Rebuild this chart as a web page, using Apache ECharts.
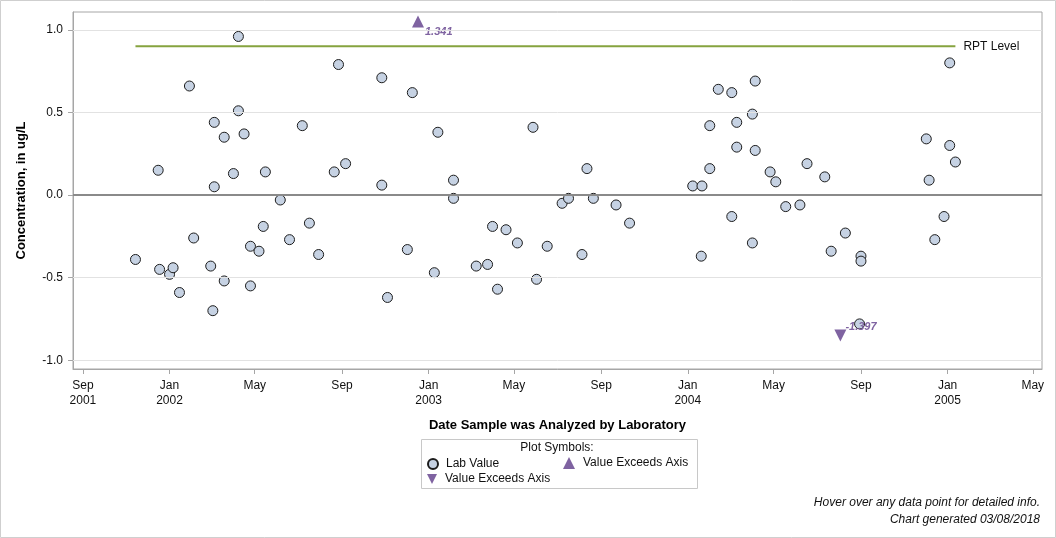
<!DOCTYPE html>
<html>
<head>
<meta charset="utf-8">
<script src="https://cdn.jsdelivr.net/npm/echarts@6/dist/echarts.min.js"></script>
<style>
    html, body {margin: 0; padding: 0; background: #fff;}
    #chart {width: 1056px; height: 538px;}
</style>
</head>
<body>
<div id="chart"></div>
<script>
// lab values (date analyzed, concentration ug/L)
let labDates = [
    '2001-11-14','2001-12-16','2001-12-18','2002-01-01','2002-01-06','2002-01-15','2002-01-29','2002-02-04','2002-02-28',
    '2002-03-05','2002-03-05','2002-03-03','2002-03-19','2002-03-19','2002-04-01','2002-04-08','2002-04-08','2002-04-16',
    '2002-04-25','2002-04-25','2002-05-07','2002-05-13','2002-05-16','2002-06-06','2002-06-19','2002-07-07','2002-07-17',
    '2002-07-30','2002-08-21','2002-08-27','2002-09-06','2002-10-27','2002-10-27','2002-11-04','2002-12-02','2002-12-09',
    '2003-01-09','2003-01-14','2003-02-05','2003-02-05','2003-03-09','2003-03-25','2003-04-01','2003-04-08','2003-04-20',
    '2003-05-06','2003-05-28','2003-06-02','2003-06-17','2003-07-08','2003-07-17','2003-08-05','2003-08-12','2003-08-21',
    '2003-09-22','2003-10-11',
    '2004-01-08','2004-01-21','2004-01-20','2004-02-01','2004-02-01','2004-02-13','2004-03-03','2004-03-03','2004-03-10',
    '2004-03-10','2004-04-01','2004-04-01','2004-04-05','2004-04-05','2004-04-26','2004-05-04','2004-05-18','2004-06-07',
    '2004-06-17','2004-07-12','2004-07-21','2004-08-10','2004-09-01','2004-09-01','2004-08-30',
    '2004-12-02','2004-12-06','2004-12-14','2004-12-27','2005-01-04','2005-01-04','2005-01-12'
];
let labValues = [
    -0.39, 0.15, -0.45, -0.48, -0.44, -0.59, 0.66, -0.26, -0.43,
    0.44, 0.05, -0.70, 0.35, -0.52, 0.13, 0.96, 0.51, 0.37,
    -0.31, -0.55, -0.34, -0.19, 0.14, -0.03, -0.27, 0.42, -0.17,
    -0.36, 0.14, 0.79, 0.19, 0.71, 0.06, -0.62, -0.33, 0.62,
    -0.47, 0.38, 0.09, -0.02, -0.43, -0.42, -0.19, -0.57, -0.21,
    -0.29, 0.41, -0.51, -0.31, -0.05, -0.02, -0.36, 0.16, -0.02,
    -0.06, -0.17,
    0.055, 0.055, -0.37, 0.16, 0.42, 0.64, 0.62, -0.13, 0.44,
    0.29, 0.49, -0.29, 0.69, 0.27, 0.14, 0.08, -0.07, -0.06,
    0.19, 0.11, -0.34, -0.23, -0.37, -0.40, -0.78,
    0.34, 0.09, -0.27, -0.13, 0.80, 0.30, 0.20
];

// values beyond the axis: drawn at the edge, real value as label
let upDates = ['2002-12-17'];
let upShown = [1.05];
let upActual = [1.341];
let downDates = ['2004-08-03'];
let downShown = [-0.85];
let downActual = [-1.397];

let rptLevel = 0.9;

// axes
let xMin = '2001-08-18', xMax = '2005-05-14';
let yMin = -1.053, yMax = 1.108;
let yTicks = [-1.0, -0.5, 0.0, 0.5, 1.0];
let xTickDates = ['2001-09-01','2002-01-01','2002-05-01','2002-09-01','2003-01-01','2003-05-01',
                  '2003-09-01','2004-01-01','2004-05-01','2004-09-01','2005-01-01','2005-05-01'];
let xTickLabels = ['Sep\n2001','Jan\n2002','May','Sep','Jan\n2003','May',
                   'Sep','Jan\n2004','May','Sep','Jan\n2005','May'];

function ts(s){
    let p = s.split('-');
    return new Date(+p[0], +p[1] - 1, +p[2]).getTime();
}

let xTickTimes = xTickDates.map(ts);
let labData = labDates.map((d, i) => [ts(d), labValues[i]]);
let upData = upDates.map((d, i) => [ts(d), upShown[i], upActual[i]]);
let downData = downDates.map((d, i) => [ts(d), downShown[i], downActual[i]]);
let rptData = [[ts(labDates[0]), rptLevel], [ts(labDates[labDates.length - 1]), rptLevel]];

const FONT = '"Liberation Sans", Arial, sans-serif';
const PURPLE = '#7f63a1';

//网格线
let gridLines = yTicks.map(v => {
    if (v === 0) return {yAxis: v, lineStyle: {color: '#8a8a8a', width: 2}};
    return {yAxis: v};
});

let legendText = {fontSize: 12, color: '#111', fontFamily: FONT, padding: [0, 0, 0, 3]};

let option = {
    animation: false,
    textStyle: {fontFamily: FONT},
    grid: {
        left: 73, right: 14, top: 12, bottom: 169,
        show: true,
        borderColor: '#a6a6a6',
        borderWidth: 1
    },
    legend: [
        {
            data: ['Lab Value'],
            left: 422, top: 453,
            itemWidth: 10, itemHeight: 10,
            selectedMode: false,
            textStyle: legendText
        },
        {
            data: ['up'],
            left: 558, top: 452,
            itemWidth: 12, itemHeight: 12,
            selectedMode: false,
            formatter: () => 'Value Exceeds Axis',
            textStyle: legendText
        },
        {
            data: [{name: 'down', icon: 'path://M0,0L2,0L1,2Z'}],
            left: 422, top: 468,
            itemWidth: 10, itemHeight: 10,
            selectedMode: false,
            formatter: () => 'Value Exceeds Axis',
            textStyle: legendText
        }
    ],
    xAxis: {
        // timestamps on a value axis so the month ticks can be placed exactly
        type: 'value',
        min: ts(xMin),
        max: ts(xMax),
        name: 'Date Sample was Analyzed by Laboratory',
        nameLocation: 'middle',
        nameGap: 50,
        nameTextStyle: {fontSize: 13, fontWeight: 'bold', color: '#000', fontFamily: FONT},
        axisLine: {show: true, onZero: false, lineStyle: {color: '#a6a6a6'}},
        axisTick: {show: true, length: 5, customValues: xTickTimes, lineStyle: {color: '#a6a6a6'}},
        axisLabel: {
            customValues: xTickTimes,
            margin: 9,
            fontSize: 12,
            lineHeight: 15,
            color: '#111',
            fontFamily: FONT,
            formatter: (val) => {
                let i = xTickTimes.indexOf(+val);
                return i >= 0 ? xTickLabels[i] : '';
            }
        },
        splitLine: {show: false}
    },
    yAxis: {
        type: 'value',
        min: yMin,
        max: yMax,
        name: 'Concentration, in ug/L',
        nameLocation: 'middle',
        nameGap: 45,
        nameTextStyle: {fontSize: 13, fontWeight: 'bold', color: '#000', fontFamily: FONT},
        axisLine: {show: true, onZero: false, lineStyle: {color: '#a6a6a6'}},
        axisTick: {show: true, length: 5, customValues: yTicks, lineStyle: {color: '#a6a6a6'}},
        axisLabel: {
            customValues: yTicks,
            margin: 10,
            fontSize: 12,
            color: '#111',
            fontFamily: FONT,
            formatter: (v) => (+v).toFixed(1)
        },
        splitLine: {show: false}
    },
    series: [
        {
            name: 'grid',
            type: 'line',
            data: [],
            silent: true,
            z: 1,
            markLine: {
                silent: true,
                symbol: 'none',
                label: {show: false},
                lineStyle: {color: '#e2e2e2', width: 1, type: 'solid'},
                data: gridLines
            }
        },
        {
            name: 'RPT Level',
            type: 'line',
            data: rptData,
            symbol: 'none',
            z: 2,
            lineStyle: {color: '#86a33f', width: 2},
            endLabel: {
                show: true,
                formatter: 'RPT Level',
                distance: 8,
                fontSize: 12,
                color: '#111',
                fontFamily: FONT
            }
        },
        {
            name: 'Lab Value',
            type: 'scatter',
            data: labData,
            symbol: 'circle',
            symbolSize: 10,
            z: 3,
            itemStyle: {color: '#c6d2e3', borderColor: '#1c1c1c', borderWidth: 1, opacity: 1}
        },
        {
            name: 'up',
            type: 'scatter',
            data: upData,
            symbol: 'triangle',
            symbolSize: 12,
            z: 4,
            itemStyle: {color: PURPLE, opacity: 1},
            label: {
                show: true,
                position: 'right',
                offset: [-4, 10],
                formatter: (p) => p.value[2].toFixed(3),
                color: PURPLE,
                fontSize: 11,
                fontWeight: 'bold',
                fontStyle: 'italic',
                fontFamily: FONT
            }
        },
        {
            name: 'down',
            type: 'scatter',
            data: downData,
            symbol: 'triangle',
            symbolRotate: 180,
            symbolSize: 12,
            z: 4,
            itemStyle: {color: PURPLE, opacity: 1},
            label: {
                show: true,
                position: 'right',
                offset: [-6, -8],
                formatter: (p) => p.value[2].toFixed(3),
                color: PURPLE,
                fontSize: 11,
                fontWeight: 'bold',
                fontStyle: 'italic',
                fontFamily: FONT
            }
        }
    ],
    graphic: [
        // outer frame
        {type: 'rect', silent: true, z: -1,
            shape: {x: 0.5, y: 0.5, width: 1055, height: 537},
            style: {fill: null, stroke: '#cfcfcf', lineWidth: 1}},
        // legend box
        {type: 'rect', silent: true, z: 0,
            shape: {x: 421.5, y: 439.5, width: 276, height: 49},
            style: {fill: null, stroke: '#c8c8c8', lineWidth: 1}},
        {type: 'text', silent: true, x: 557, y: 442,
            style: {text: 'Plot Symbols:', align: 'center', fontSize: 12, fill: '#111', fontFamily: FONT}},
        // footnotes
        {type: 'text', silent: true, x: 1040, y: 497,
            style: {text: 'Hover over any data point for detailed info.', align: 'right', fontSize: 12,
                fontStyle: 'italic', fill: '#111', fontFamily: FONT}},
        {type: 'text', silent: true, x: 1040, y: 514,
            style: {text: 'Chart generated 03/08/2018', align: 'right', fontSize: 12,
                fontStyle: 'italic', fill: '#111', fontFamily: FONT}}
    ]
};

echarts.init(document.getElementById('chart')).setOption(option);
</script>
</body>
</html>
